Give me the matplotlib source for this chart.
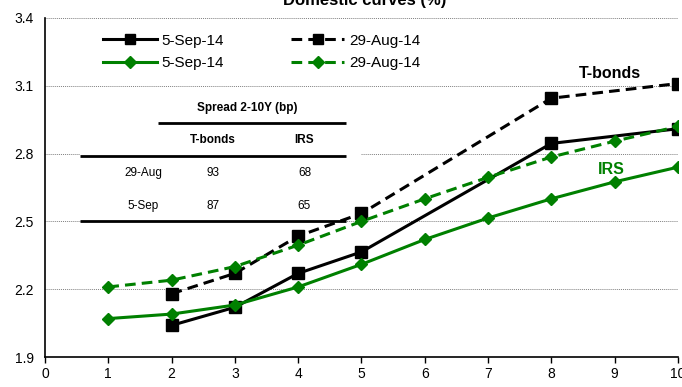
import matplotlib
matplotlib.use("Agg")
import matplotlib.pyplot as plt

plt.rcParams['font.family'] = ['Liberation Sans', 'DejaVu Sans']

tb_x = [2, 3, 4, 5, 8, 10]
tb_sep = [2.04, 2.12, 2.27, 2.365, 2.845, 2.91]
tb_aug = [2.18, 2.27, 2.435, 2.535, 3.045, 3.11]
irs_x = [1, 2, 3, 4, 5, 6, 7, 8, 9, 10]
irs_sep = [2.07, 2.09, 2.13, 2.21, 2.31, 2.42, 2.515, 2.60, 2.675, 2.74]
irs_aug = [2.21, 2.24, 2.30, 2.395, 2.50, 2.60, 2.695, 2.785, 2.855, 2.92]

table_header = "Spread 2-10Y (bp)"
table_cols = ["T-bonds", "IRS"]
table_rows = ["29-Aug", "5-Sep"]
table_vals = [[93, 68], [87, 65]]

GREEN = "#008000"

fig = plt.figure(figsize=(6.82, 3.87), dpi=100)
ax = fig.add_axes([0.066, 0.0775, 0.928, 0.876])

l1, = ax.plot(tb_x, tb_sep, color='black', lw=2.2, marker='s', ms=8, label='5-Sep-14', zorder=4)
l2, = ax.plot(tb_x, tb_aug, color='black', lw=2.2, ls=(0, (3.5, 2)), marker='s', ms=8, label='29-Aug-14', zorder=4)
l3, = ax.plot(irs_x, irs_sep, color=GREEN, lw=2.2, marker='D', ms=6.5, label='5-Sep-14', zorder=5)
l4, = ax.plot(irs_x, irs_aug, color=GREEN, lw=2.2, ls=(0, (3.5, 2)), marker='D', ms=6.5, label='29-Aug-14', zorder=5)

ax.set_xlim(0, 10)
ax.set_ylim(1.9, 3.4)
ax.set_xticks(range(0, 11))
ax.set_yticks([1.9, 2.2, 2.5, 2.8, 3.1, 3.4])
ax.set_yticklabels(["1.9", "2.2", "2.5", "2.8", "3.1", "3.4"])
ax.tick_params(axis='both', labelsize=10, length=4, direction='out', width=1)
ax.tick_params(axis='y', length=0, pad=8)
for s in ['top', 'right']:
    ax.spines[s].set_visible(False)
ax.spines['left'].set_linewidth(1.2)
ax.spines['bottom'].set_linewidth(1.2)
for yv in [2.2, 2.5, 2.8, 3.1, 3.4]:
    ax.axhline(yv, color='#808080', lw=0.7, ls=(0, (1, 1)), zorder=1)

leg = ax.legend([l1, l3, l2, l4], [l1.get_label(), l3.get_label(), l2.get_label(), l4.get_label()],
                ncol=2, loc='upper left', bbox_to_anchor=(0.075, 0.985), frameon=False,
                fontsize=11, handlelength=3.5, columnspacing=4.4, handletextpad=0.3,
                labelspacing=0.55, borderpad=0.2)
for h in leg.legend_handles:
    h.set_markersize(h.get_markersize() * 0.9)

fig.text(0.535, 1.0, "Domestic curves (%)", ha='center', va='center', fontsize=12, fontweight='bold')

ax.text(8.92, 3.155, "T-bonds", fontsize=11.5, fontweight='bold', color='black', ha='center', va='center')
ax.text(8.95, 2.73, "IRS", fontsize=11.5, fontweight='bold', color=GREEN, ha='center', va='center')

# inset table
tf = ['Liberation Sans Narrow', 'Liberation Sans', 'DejaVu Sans']
ax.add_patch(plt.Rectangle((0.55, 2.505), 4.45, 0.47, facecolor='white', edgecolor='none', zorder=2))
ax.plot([1.78, 4.75], [2.935, 2.935], color='black', lw=2, zorder=3, solid_capstyle='butt')
ax.plot([0.55, 4.75], [2.79, 2.79], color='black', lw=2, zorder=3, solid_capstyle='butt')
ax.plot([0.55, 4.75], [2.5, 2.5], color='black', lw=2, zorder=3, solid_capstyle='butt')
ax.text(3.2, 3.0, table_header, family=tf, fontsize=8.5, fontweight='bold', ha='center', va='center', zorder=3)
col_x = [2.65, 4.1]
for cx, c in zip(col_x, table_cols):
    ax.text(cx, 2.862, c, family=tf, fontsize=8.5, fontweight='bold', ha='center', va='center', zorder=3)
row_y = [2.715, 2.57]
for ry, r, vals in zip(row_y, table_rows, table_vals):
    ax.text(1.55, ry, r, family=tf, fontsize=8.5, ha='center', va='center', zorder=3)
    for cx, v in zip(col_x, vals):
        ax.text(cx, ry, str(v), family=tf, fontsize=8.5, ha='center', va='center', zorder=3)

fig.savefig("out.png", dpi=100)
